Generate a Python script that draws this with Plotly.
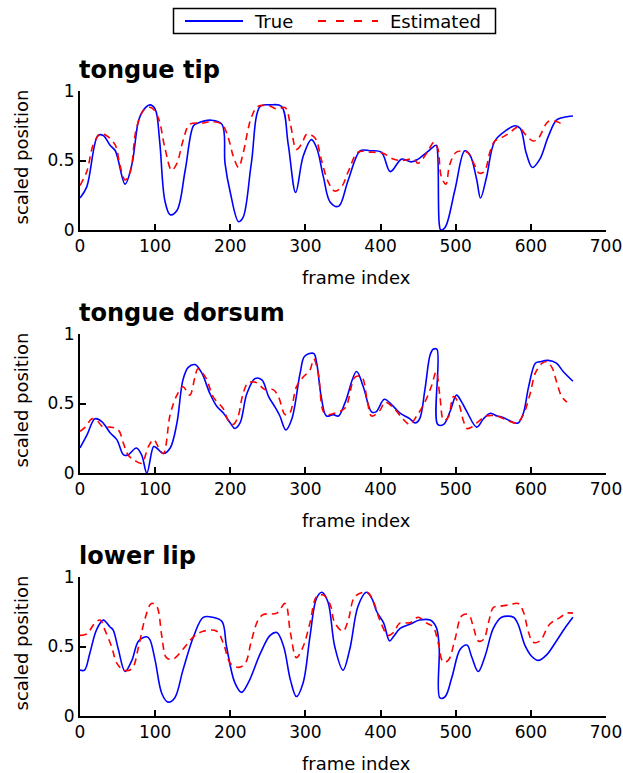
import plotly.graph_objects as go

# ---------------- data ----------------
tip_true_f = [0, 9, 24, 31, 40, 47, 60, 69, 78, 84, 93, 100, 106, 113, 120, 129, 140, 151, 157, 175, 189, 193, 200, 211, 217, 228, 240, 253, 268, 277, 287, 297, 308, 315, 324, 333, 344, 357, 373, 386, 401, 413, 428, 441, 450, 464, 474, 476, 478, 480, 486, 499, 512, 519, 528, 533, 541, 552, 568, 579, 586, 594, 602, 612, 623, 634, 643, 656]
tip_true_v = [0.23, 0.31, 0.68, 0.68, 0.61, 0.57, 0.33, 0.47, 0.79, 0.86, 0.90, 0.87, 0.64, 0.21, 0.11, 0.14, 0.43, 0.75, 0.77, 0.79, 0.76, 0.48, 0.27, 0.06, 0.09, 0.48, 0.89, 0.90, 0.89, 0.62, 0.27, 0.53, 0.65, 0.59, 0.38, 0.20, 0.17, 0.36, 0.57, 0.57, 0.56, 0.42, 0.51, 0.49, 0.51, 0.57, 0.61, 0.55, 0.05, 0.0, 0.02, 0.29, 0.57, 0.54, 0.36, 0.23, 0.38, 0.64, 0.72, 0.75, 0.73, 0.55, 0.45, 0.51, 0.67, 0.79, 0.81, 0.82]

tip_est_f = [0, 9, 18, 27, 35, 47, 53, 60, 67, 75, 86, 95, 104, 113, 122, 129, 137, 146, 164, 175, 189, 197, 204, 211, 217, 228, 237, 253, 262, 273, 280, 288, 295, 302, 313, 321, 330, 339, 348, 357, 370, 386, 404, 417, 428, 444, 450, 461, 471, 476, 481, 487, 492, 501, 515, 524, 531, 538, 546, 552, 563, 572, 583, 594, 603, 610, 623, 634, 645]
tip_est_v = [0.32, 0.42, 0.62, 0.69, 0.68, 0.61, 0.47, 0.36, 0.42, 0.73, 0.87, 0.88, 0.81, 0.59, 0.43, 0.48, 0.64, 0.76, 0.77, 0.78, 0.76, 0.67, 0.53, 0.45, 0.55, 0.81, 0.89, 0.89, 0.87, 0.88, 0.76, 0.58, 0.62, 0.69, 0.66, 0.51, 0.35, 0.28, 0.31, 0.42, 0.56, 0.56, 0.55, 0.51, 0.50, 0.51, 0.48, 0.55, 0.63, 0.59, 0.38, 0.33, 0.47, 0.56, 0.56, 0.48, 0.41, 0.42, 0.57, 0.64, 0.67, 0.70, 0.74, 0.68, 0.64, 0.66, 0.78, 0.78, 0.75]

dor_true_f = [0, 9, 20, 29, 40, 49, 58, 64, 75, 82, 89, 98, 102, 111, 120, 129, 137, 144, 153, 162, 173, 182, 191, 200, 206, 213, 222, 233, 242, 251, 260, 266, 274, 282, 293, 299, 311, 315, 321, 328, 337, 344, 353, 368, 377, 388, 394, 405, 415, 426, 439, 446, 452, 459, 466, 470, 475, 476, 484, 493, 501, 508, 515, 528, 537, 546, 555, 563, 574, 583, 590, 597, 606, 612, 623, 634, 643, 656]
dor_true_v = [0.18, 0.27, 0.39, 0.37, 0.29, 0.24, 0.13, 0.13, 0.18, 0.13, 0.0, 0.19, 0.18, 0.14, 0.18, 0.36, 0.67, 0.76, 0.78, 0.72, 0.57, 0.48, 0.43, 0.36, 0.32, 0.36, 0.57, 0.68, 0.67, 0.55, 0.47, 0.41, 0.31, 0.39, 0.72, 0.84, 0.86, 0.79, 0.55, 0.41, 0.42, 0.41, 0.51, 0.73, 0.62, 0.44, 0.44, 0.53, 0.49, 0.43, 0.39, 0.36, 0.39, 0.60, 0.85, 0.89, 0.89, 0.35, 0.35, 0.45, 0.56, 0.51, 0.44, 0.33, 0.39, 0.43, 0.41, 0.40, 0.37, 0.36, 0.43, 0.62, 0.79, 0.80, 0.81, 0.79, 0.73, 0.66]

dor_est_f = [0, 7, 16, 22, 31, 40, 51, 58, 64, 73, 82, 91, 98, 104, 111, 120, 129, 137, 146, 153, 157, 168, 177, 191, 197, 204, 210, 217, 224, 235, 246, 257, 264, 273, 279, 288, 297, 306, 311, 317, 324, 330, 339, 353, 366, 375, 382, 388, 399, 406, 417, 428, 439, 448, 459, 468, 474, 479, 484, 490, 497, 504, 510, 515, 521, 528, 541, 555, 568, 581, 590, 599, 606, 615, 621, 628, 634, 641, 648]
dor_est_v = [0.30, 0.33, 0.39, 0.38, 0.33, 0.33, 0.31, 0.21, 0.13, 0.09, 0.07, 0.19, 0.24, 0.19, 0.14, 0.42, 0.56, 0.62, 0.56, 0.69, 0.75, 0.68, 0.55, 0.46, 0.38, 0.35, 0.40, 0.57, 0.65, 0.65, 0.60, 0.60, 0.55, 0.42, 0.43, 0.62, 0.69, 0.74, 0.82, 0.72, 0.44, 0.42, 0.43, 0.47, 0.69, 0.69, 0.53, 0.41, 0.45, 0.51, 0.47, 0.40, 0.35, 0.41, 0.51, 0.63, 0.73, 0.55, 0.38, 0.40, 0.55, 0.50, 0.38, 0.32, 0.33, 0.36, 0.41, 0.41, 0.38, 0.36, 0.42, 0.57, 0.72, 0.79, 0.80, 0.76, 0.66, 0.55, 0.51]

lip_true_f = [0, 6, 13, 22, 31, 40, 44, 51, 60, 69, 78, 89, 93, 100, 109, 117, 126, 137, 151, 164, 177, 189, 195, 206, 215, 224, 240, 253, 262, 271, 280, 288, 297, 306, 315, 322, 330, 339, 350, 359, 370, 381, 388, 395, 404, 412, 417, 426, 439, 452, 466, 474, 478, 479, 486, 495, 506, 515, 521, 530, 539, 550, 561, 577, 583, 592, 601, 610, 621, 634, 645, 656]
lip_true_v = [0.33, 0.33, 0.45, 0.62, 0.69, 0.64, 0.62, 0.48, 0.32, 0.40, 0.54, 0.57, 0.55, 0.40, 0.16, 0.10, 0.13, 0.33, 0.57, 0.71, 0.71, 0.68, 0.50, 0.24, 0.17, 0.24, 0.45, 0.58, 0.60, 0.50, 0.26, 0.14, 0.24, 0.57, 0.85, 0.89, 0.82, 0.50, 0.33, 0.48, 0.79, 0.89, 0.85, 0.75, 0.67, 0.54, 0.57, 0.63, 0.66, 0.69, 0.69, 0.64, 0.50, 0.13, 0.14, 0.28, 0.48, 0.51, 0.43, 0.32, 0.43, 0.63, 0.71, 0.71, 0.66, 0.51, 0.43, 0.40, 0.44, 0.54, 0.63, 0.71]

lip_est_f = [0, 9, 20, 27, 33, 42, 49, 58, 69, 78, 86, 95, 102, 109, 115, 124, 137, 151, 164, 182, 191, 200, 211, 220, 228, 237, 244, 262, 273, 280, 288, 297, 306, 315, 324, 333, 339, 350, 357, 366, 382, 390, 399, 410, 417, 426, 439, 450, 461, 470, 477, 483, 490, 499, 508, 517, 524, 530, 537, 544, 550, 559, 572, 583, 590, 597, 603, 612, 625, 639, 648, 656]
lip_est_v = [0.58, 0.59, 0.67, 0.69, 0.62, 0.50, 0.38, 0.33, 0.34, 0.50, 0.69, 0.81, 0.79, 0.57, 0.42, 0.41, 0.48, 0.57, 0.61, 0.61, 0.52, 0.38, 0.35, 0.38, 0.54, 0.69, 0.73, 0.74, 0.81, 0.60, 0.42, 0.50, 0.67, 0.86, 0.87, 0.80, 0.67, 0.61, 0.69, 0.86, 0.89, 0.83, 0.69, 0.58, 0.60, 0.67, 0.67, 0.71, 0.67, 0.64, 0.52, 0.39, 0.40, 0.55, 0.72, 0.73, 0.63, 0.54, 0.55, 0.68, 0.78, 0.79, 0.80, 0.81, 0.75, 0.60, 0.53, 0.54, 0.66, 0.71, 0.74, 0.74]

panel_titles = ["tongue tip", "tongue dorsum", "lower lip"]
series_names = ["True", "Estimated"]
x_title = "frame index"
y_title = "scaled position"
x_ticks = [0, 100, 200, 300, 400, 500, 600, 700]
y_ticks = [0, 0.5, 1]
y_ticktext = ["0", "0.5", "1"]

# ---------------- figure ----------------
W, H = 623, 773
FONT = "DejaVu Sans"
BLUE = "#0000ff"
RED = "#ff0000"
DASH = "7px,5px"
LEGEND_DASH = "8px,10px"

panels = [
    (tip_true_f, tip_true_v, tip_est_f, tip_est_v),
    (dor_true_f, dor_true_v, dor_est_f, dor_est_v),
    (lip_true_f, lip_true_v, lip_est_f, lip_est_v),
]
# pixel positions (value 1 at top, value 0 at bottom) for each panel
px_y = [(91, 230), (334, 473), (577, 716)]
px_x = (80, 606)


def px(x):
    return x / W


def py(y):
    return 1 - y / H


fig = go.Figure()
annotations = []
shapes = []
layout = dict(
    width=W, height=H,
    margin=dict(l=0, r=0, t=0, b=0),
    paper_bgcolor="white", plot_bgcolor="white",
    font=dict(family=FONT, color="black", size=17),
    showlegend=False,
)

for i, (tf, tv, ef, ev) in enumerate(panels):
    n = "" if i == 0 else str(i + 1)
    xa, ya = "x" + n, "y" + n
    fig.add_trace(go.Scatter(x=tf, y=tv, xaxis=xa, yaxis=ya, mode="lines",
                             name=series_names[0],
                             line=dict(color=BLUE, width=1.6, shape="spline", smoothing=1.0)))
    fig.add_trace(go.Scatter(x=ef, y=ev, xaxis=xa, yaxis=ya, mode="lines",
                             name=series_names[1],
                             line=dict(color=RED, width=1.6, dash=DASH, shape="spline", smoothing=1.0)))
    top, bot = px_y[i]
    layout["xaxis" + n] = dict(
        domain=[px(px_x[0]), px(px_x[1])], anchor=ya, range=[0, 700],
        tickvals=x_ticks, ticks="inside", ticklen=6, tickwidth=2, tickcolor="black",
        showline=True, linewidth=2, linecolor="black", showgrid=False, zeroline=False,
        tickfont=dict(size=17), automargin=False,
    )
    layout["yaxis" + n] = dict(
        domain=[py(bot), py(top)], anchor=xa, range=[0, 1],
        tickvals=y_ticks, ticktext=y_ticktext, ticks="inside", ticklen=6, tickwidth=2,
        tickcolor="black", showline=True, linewidth=2, linecolor="black",
        showgrid=False, zeroline=False, tickfont=dict(size=17), automargin=False,
    )
    # panel title
    annotations.append(dict(
        text="<b>" + panel_titles[i] + "</b>", xref="paper", yref="paper",
        x=px(77), xanchor="left", y=py(top - 21), yanchor="middle",
        showarrow=False, font=dict(size=24, family=FONT, color="black"),
    ))
    # axis titles
    annotations.append(dict(
        text=x_title, xref="paper", yref="paper", x=px(356), xanchor="center",
        y=py(bot + 47), yanchor="middle", showarrow=False, font=dict(size=18),
    ))
    annotations.append(dict(
        text=y_title, xref="paper", yref="paper", x=px(21), xanchor="center",
        y=py((top + bot) / 2 - 3), yanchor="middle", textangle=-90,
        showarrow=False, font=dict(size=18),
    ))

# legend box (drawn to match the reference's wide legend)
shapes.append(dict(type="rect", xref="paper", yref="paper", x0=px(173.5), x1=px(495.5),
                   y0=py(33.5), y1=py(8.5), line=dict(color="black", width=1.5),
                   fillcolor="white"))
shapes.append(dict(type="line", xref="paper", yref="paper", x0=px(185), x1=px(243),
                   y0=py(21), y1=py(21), line=dict(color=BLUE, width=1.8)))
shapes.append(dict(type="line", xref="paper", yref="paper", x0=px(318), x1=px(378),
                   y0=py(21), y1=py(21), line=dict(color=RED, width=1.8, dash=LEGEND_DASH)))
annotations.append(dict(text=series_names[0], xref="paper", yref="paper", x=px(252),
                        xanchor="left", y=py(21), yanchor="middle", showarrow=False,
                        font=dict(size=18)))
annotations.append(dict(text=series_names[1], xref="paper", yref="paper", x=px(388),
                        xanchor="left", y=py(21), yanchor="middle", showarrow=False,
                        font=dict(size=18)))

layout["annotations"] = annotations
layout["shapes"] = shapes
fig.update_layout(**layout)
fig.write_html("out.html")
